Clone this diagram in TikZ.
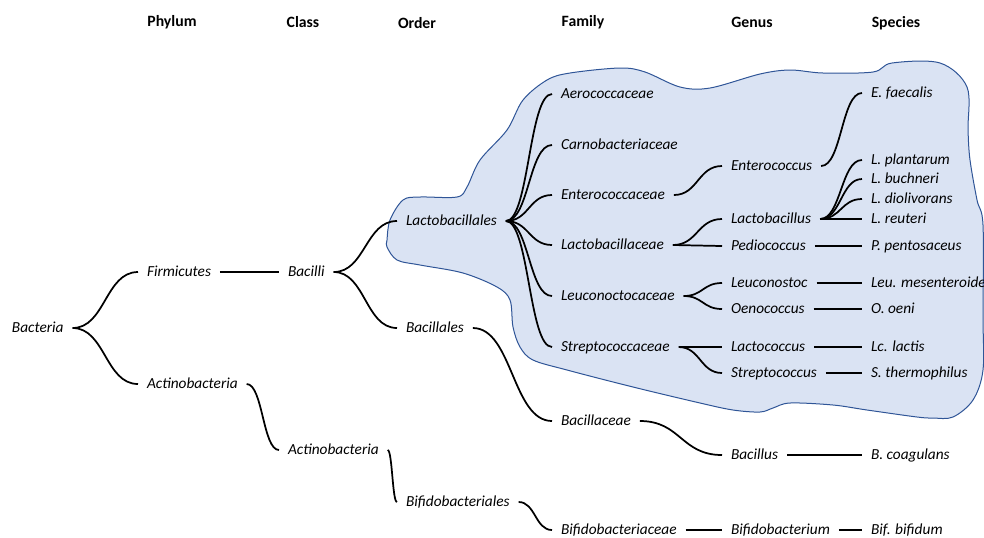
\documentclass[tikz,border=0pt]{standalone}
\usepackage{fontspec}
\setmainfont{Carlito}
\usetikzlibrary{calc}

\tikzset{
  taxon/.style={font=\fontsize{11.5}{13}\selectfont\itshape, anchor=west, inner sep=0pt, outer sep=6.75pt, text height=9pt, text depth=2pt},
  rank/.style={font=\fontsize{11.8}{13}\selectfont\bfseries, inner sep=0pt},
  branch/.style={to path={let \p1=(\tikztostart), \p2=(\tikztotarget) in .. controls ({(\x1+\x2)/2},\y1) and ({(\x1+\x2)/2},\y2) .. (\tikztotarget)}},
  bar/.style={line width=1.3pt},
  thickbar/.style={line width=2.1pt}
}

\begin{document}
\begin{tikzpicture}[x=0.75pt,y=0.75pt,yscale=-1,xscale=1]
\useasboundingbox (0,0) rectangle (984,537);

%Blob [lactic acid bacteria]
\draw [color={rgb, 255:red, 47; green, 85; blue, 151 }, fill={rgb, 255:red, 218; green, 227; blue, 243 }, line width=0.75]
  plot [smooth cycle, tension=0.55] coordinates {
  (387,240) (390,220) (403,200) (420,197) (457,197) (467,187) (480,160)
  (507,130) (523,100) (547,80) (570,73) (620,68) (645,72) (680,87)
  (710,88) (760,74) (790,70) (823,73) (873,72) (892,63) (940,63)
  (967,87) (968,130) (970,160) (977,200) (983,225) (983,317) (983,370)
  (973,400) (953,417) (933,418) (917,417) (867,410) (833,405) (790,403)
  (773,408) (760,412) (733,410) (700,403) (633,387) (567,370) (533,360)
  (520,347) (513,327) (510,300) (497,287) (463,273) (420,265) (397,260)
  (387,247)};

% Rank headers
\draw (172,22) node [rank] (hphylum) {Phylum};
\draw (303,22) node [rank] (hclass) {Class};
\draw (417,23) node [rank] (horder) {Order};
\draw (583,22) node [rank] (hfamily) {Family};
\draw (752,22) node [rank] (hgenus) {Genus};
\draw (896,23) node [rank] (hspecies) {Species};

% Text Node
\draw (3,328) node [taxon] (bacteria) {Bacteria};
% Phylum
\draw (138,272) node [taxon] (firmicutes) {Firmicutes};
\draw (138,384) node [taxon] (actinophylum) {Actinobacteria};
% Class
\draw (279,272) node [taxon] (bacilli) {Bacilli};
\draw (279,450) node [taxon] (actinoclass) {Actinobacteria};
% Order
\draw (397,221) node [taxon] (lactobacillales) {Lactobacillales};
\draw (397,328) node [taxon] (bacillales) {Bacillales};
\draw (397,502) node [taxon] (bifidobacteriales) {Bifidobacteriales};
% Family
\draw (552,94) node [taxon] (aerococcaceae) {Aerococcaceae};
\draw (552,145) node [taxon] (carnobacteriaceae) {Carnobacteriaceae};
\draw (552,195) node [taxon] (enterococcaceae) {Enterococcaceae};
\draw (552,245) node [taxon] (lactobacillaceae) {Lactobacillaceae};
\draw (552,296) node [taxon] (leuconoctocaceae) {Leuconoctocaceae};
\draw (552,347) node [taxon] (streptococcaceae) {Streptococcaceae};
\draw (552,421) node [taxon] (bacillaceae) {Bacillaceae};
\draw (552,530) node [taxon] (bifidobacteriaceae) {Bifidobacteriaceae};
% Genus
\draw (722,166) node [taxon] (enterococcus) {Enterococcus};
\draw (722,219) node [taxon] (lactobacillus) {Lactobacillus};
\draw (722,246) node [taxon] (pediococcus) {Pediococcus};
\draw (722,283) node [taxon] (leuconostoc) {Leuconostoc};
\draw (722,309) node [taxon] (oenococcus) {Oenococcus};
\draw (722,347) node [taxon] (lactococcus) {Lactococcus};
\draw (722,373) node [taxon] (streptococcus) {Streptococcus};
\draw (722,455) node [taxon] (bacillus) {Bacillus};
\draw (722,530) node [taxon] (bifidobacterium) {Bifidobacterium};
% Species
\draw (862,93) node [taxon] (efaecalis) {E. faecalis};
\draw (862,160) node [taxon] (lplantarum) {L. plantarum};
\draw (862,179) node [taxon] (lbuchneri) {L. buchneri};
\draw (862,199) node [taxon] (ldiolivorans) {L. diolivorans};
\draw (862,219) node [taxon] (lreuteri) {L. reuteri};
\draw (862,246) node [taxon] (ppentosaceus) {P. pentosaceus};
\draw (862,283) node [taxon] (leumesenteroide) {Leu. mesenteroide};
\draw (862,309) node [taxon] (ooeni) {O. oeni};
\draw (862,347) node [taxon] (lclactis) {Lc. lactis};
\draw (862,373) node [taxon] (sthermophilus) {S. thermophilus};
\draw (862,455) node [taxon] (bcoagulans) {B. coagulans};
\draw (862,530) node [taxon] (bifbifidum) {Bif. bifidum};

%Curve Lines
\draw [bar] (bacteria.east) to [branch] (firmicutes.west);
\draw [bar] (bacteria.east) to [branch] (actinophylum.west);
\draw [bar] (firmicutes.east) to [branch] (bacilli.west);
\draw [bar] (actinophylum.east) to [branch] (actinoclass.west);
\draw [bar] (bacilli.east) to [branch] (lactobacillales.west);
\draw [bar] (bacilli.east) to [branch] (bacillales.west);
\draw [bar] (actinoclass.east) to [branch] (bifidobacteriales.west);
\draw [bar] (lactobacillales.east) to [branch] (aerococcaceae.west);
\draw [bar] (lactobacillales.east) to [branch] (carnobacteriaceae.west);
\draw [bar] (lactobacillales.east) to [branch] (enterococcaceae.west);
\draw [bar] (lactobacillales.east) to [branch] (lactobacillaceae.west);
\draw [bar] (lactobacillales.east) to [branch] (leuconoctocaceae.west);
\draw [bar] (lactobacillales.east) to [branch] (streptococcaceae.west);
\draw [bar] (bacillales.east) to [branch] (bacillaceae.west);
\draw [bar] (bifidobacteriales.east) to [branch] (bifidobacteriaceae.west);
\draw [bar] (enterococcaceae.east) to [branch] (enterococcus.west);
\draw [bar] (lactobacillaceae.east) to [branch] (lactobacillus.west);
\draw [bar] (lactobacillaceae.east) to [branch] (pediococcus.west);
\draw [bar] (leuconoctocaceae.east) to [branch] (leuconostoc.west);
\draw [bar] (leuconoctocaceae.east) to [branch] (oenococcus.west);
\draw [bar] (streptococcaceae.east) to [branch] (lactococcus.west);
\draw [bar] (streptococcaceae.east) to [branch] (streptococcus.west);
\draw [bar] (bacillaceae.east) to [branch] (bacillus.west);
\draw [bar] (bifidobacteriaceae.east) to [branch] (bifidobacterium.west);
\draw [bar] (enterococcus.east) to [branch] (efaecalis.west);
\draw [bar] (lactobacillus.east) to [branch] (lplantarum.west);
\draw [bar] (lactobacillus.east) to [branch] (lbuchneri.west);
\draw [bar] (lactobacillus.east) to [branch] (ldiolivorans.west);
\draw [bar] (lactobacillus.east) to [branch] (lreuteri.west);
%Straight Lines
\draw [bar] (pediococcus.east) -- (ppentosaceus.west);
\draw [bar] (leuconostoc.east) -- (leumesenteroide.west);
\draw [bar] (oenococcus.east) -- (ooeni.west);
\draw [bar] (lactococcus.east) -- (lclactis.west);
\draw [thickbar] (streptococcus.east) -- (sthermophilus.west);
\draw [thickbar] (bacillus.east) -- (bcoagulans.west);
\draw [bar] (bifidobacterium.east) -- (bifbifidum.west);

\end{tikzpicture}
\end{document}
